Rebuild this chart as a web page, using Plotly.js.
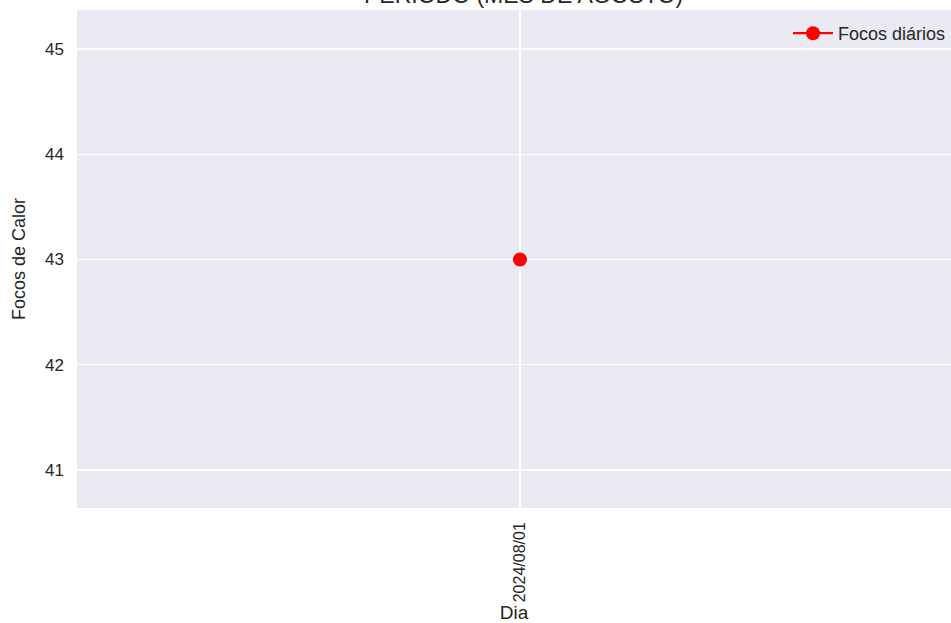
<!DOCTYPE html>
<html>
<head>
<meta charset="utf-8">
<script src="https://cdn.plot.ly/plotly-3.0.1.min.js"></script>
<style>html,body{margin:0;padding:0;overflow:hidden;background:#fff}</style>
</head>
<body>
<div id="chart" style="width:951px;height:623px"></div>
<script>
const dias = ["2024/08/01"];
const focos = [43];
const serieNome = "Focos diários";
const titulo = "PERÍODO (MÊS DE AGOSTO)";
const yTicks = [41, 42, 43, 44, 45];

const trace = {
  x: dias, y: focos, type: "scatter", mode: "lines+markers", name: serieNome,
  line: {color: "#ff0000", width: 2.2}, marker: {color: "#ff0000", size: 14},
  showlegend: true
};
const sans = "'Liberation Sans', Arial, sans-serif";
const txt = "#262626";
const layout = {
  width: 951, height: 623,
  paper_bgcolor: "#ffffff", plot_bgcolor: "#EAEAF2",
  margin: {l: 77, r: 0, t: 10, b: 115},
  annotations: [{text: titulo, xref: "paper", yref: "paper", x: 0.5103, y: 1, xanchor: "center", yanchor: "bottom",
                 yshift: 0, showarrow: false, font: {family: sans, size: 23, color: txt}}],
  showlegend: true,
  legend: {x: 1, xanchor: "right", y: 0.99, yanchor: "top", bgcolor: "rgba(0,0,0,0)",
           font: {family: sans, size: 18, color: txt}, itemwidth: 40},
  xaxis: {type: "category", range: [-0.5, 0.4865], showgrid: true, gridcolor: "#ffffff", gridwidth: 1.3,
          tickangle: -90, ticks: "", ticklabelstandoff: 10, zeroline: false, showline: false,
          tickfont: {family: sans, size: 16, color: txt},
          title: {text: "Dia", font: {family: sans, size: 19, color: txt}, standoff: 6}},
  yaxis: {range: [40.64, 45.37], tickvals: yTicks, showgrid: true, gridcolor: "#ffffff", gridwidth: 1.3,
          ticks: "", ticklabelstandoff: 12, zeroline: false, showline: false,
          tickfont: {family: sans, size: 17, color: txt},
          title: {text: "Focos de Calor", font: {family: sans, size: 18, color: txt}, standoff: 14}}
};
Plotly.newPlot("chart", [trace], layout, {displayModeBar: false, staticPlot: true});
</script>
</body>
</html>
